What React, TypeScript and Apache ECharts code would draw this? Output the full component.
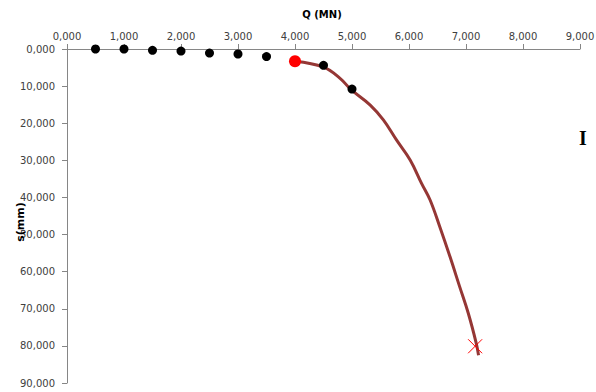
import React, { useEffect, useRef } from "react";
import * as echarts from "echarts";

const xTickMin = 0;
const xTickMax = 9;
const yTickMin = 0;
const yTickMax = 90;

const xTitle = "Q (MN)";
const yTitle = "s(mm)";
const panelLabel = "I";

// Measured points (Q in MN, s in mm)
const pointQ = [0.5, 1.0, 1.5, 2.0, 2.5, 3.0, 3.5, 4.5, 5.0];
const pointS = [0.0, 0.0, 0.35, 0.55, 1.1, 1.35, 2.05, 4.4, 10.8];

// Highlighted point
const redQ = [4.0];
const redS = [3.3];

// Fitted curve
const curveQ = [4.0, 4.5, 4.79, 4.98, 5.32, 5.55, 5.78, 6.02, 6.22, 6.37, 6.54, 6.72, 6.89, 7.04, 7.18, 7.22];
const curveS = [3.3, 4.9, 7.9, 10.9, 15.1, 19.1, 24.5, 29.9, 36.2, 40.7, 47.9, 56.0, 64.1, 71.2, 79.3, 82.5];

// Ultimate point
const crossQ = [7.16];
const crossS = [80.1];

const fmt = (v: number) => v.toFixed(3).replace(".", ",");

export default function App() {
  const ref = useRef<HTMLDivElement>(null);
  useEffect(() => {
    if (!ref.current) return;
    const chart = echarts.init(ref.current, undefined, { renderer: "svg" });
    const zip = (a: number[], b: number[]) => a.map((v, i) => [v, b[i]]);
    const labelFont = { fontFamily: "DejaVu Sans", fontSize: 10, color: "#404040" };
    chart.setOption({
      animation: false,
      backgroundColor: "#ffffff",
      grid: { left: 67, top: 49, right: 16, bottom: 9, containLabel: false, outerBoundsMode: "none" },
      xAxis: {
        type: "value",
        position: "top",
        min: xTickMin,
        max: xTickMax,
        interval: 1,
        axisLine: { show: true, onZero: false, lineStyle: { color: "#868686", width: 1 } },
        axisTick: { show: true, inside: false, length: 5, lineStyle: { color: "#868686" } },
        axisLabel: { ...labelFont, margin: 8, formatter: fmt },
        splitLine: { show: false },
      },
      yAxis: {
        type: "value",
        inverse: true,
        min: yTickMin,
        max: yTickMax,
        interval: 10,
        axisLine: { show: true, onZero: false, lineStyle: { color: "#868686", width: 1 } },
        axisTick: { show: true, inside: false, length: 5, lineStyle: { color: "#868686" } },
        axisLabel: { ...labelFont, margin: 12, formatter: fmt },
        splitLine: { show: false },
      },
      graphic: [
        {
          type: "text",
          x: 322,
          y: 14,
          style: {
            text: xTitle,
            fontFamily: "DejaVu Sans",
            fontSize: 10,
            fontWeight: "bold",
            fill: "#000",
            textAlign: "center",
            textVerticalAlign: "middle",
          },
        },
        {
          type: "text",
          x: 20,
          y: 222,
          rotation: Math.PI / 2,
          style: {
            text: yTitle,
            fontFamily: "DejaVu Sans",
            fontSize: 11,
            fontWeight: "bold",
            fill: "#000",
            textAlign: "center",
            textVerticalAlign: "middle",
          },
          z: 10,
        },
        {
          type: "text",
          left: 579,
          top: 128,
          style: { text: panelLabel, fontFamily: "Liberation Serif", fontSize: 20, fontWeight: "bold", fill: "#000" },
        },
      ],
      series: [
        {
          type: "line",
          data: zip(curveQ, curveS),
          smooth: 0.4,
          showSymbol: false,
          lineStyle: { color: "#953735", width: 3 },
          z: 2,
        },
        {
          type: "scatter",
          data: zip(pointQ, pointS),
          symbol: "circle",
          symbolSize: 9,
          itemStyle: { color: "#000000", opacity: 1 },
          z: 3,
        },
        {
          type: "scatter",
          data: zip(redQ, redS),
          symbol: "circle",
          symbolSize: 12,
          itemStyle: { color: "#ff0000", opacity: 1 },
          z: 4,
        },
        {
          type: "scatter",
          data: zip(crossQ, crossS),
          symbol: "path://M0,0L10,10M10,0L0,10",
          symbolSize: 14,
          itemStyle: { color: "none", borderColor: "#ff0000", borderWidth: 1, opacity: 1 },
          z: 5,
        },
      ],
    });
    return () => chart.dispose();
  }, []);
  return (
    <div
      ref={ref}
      style={{ position: "fixed", left: 0, top: 0, width: 596, height: 392 }}
    />
  );
}
